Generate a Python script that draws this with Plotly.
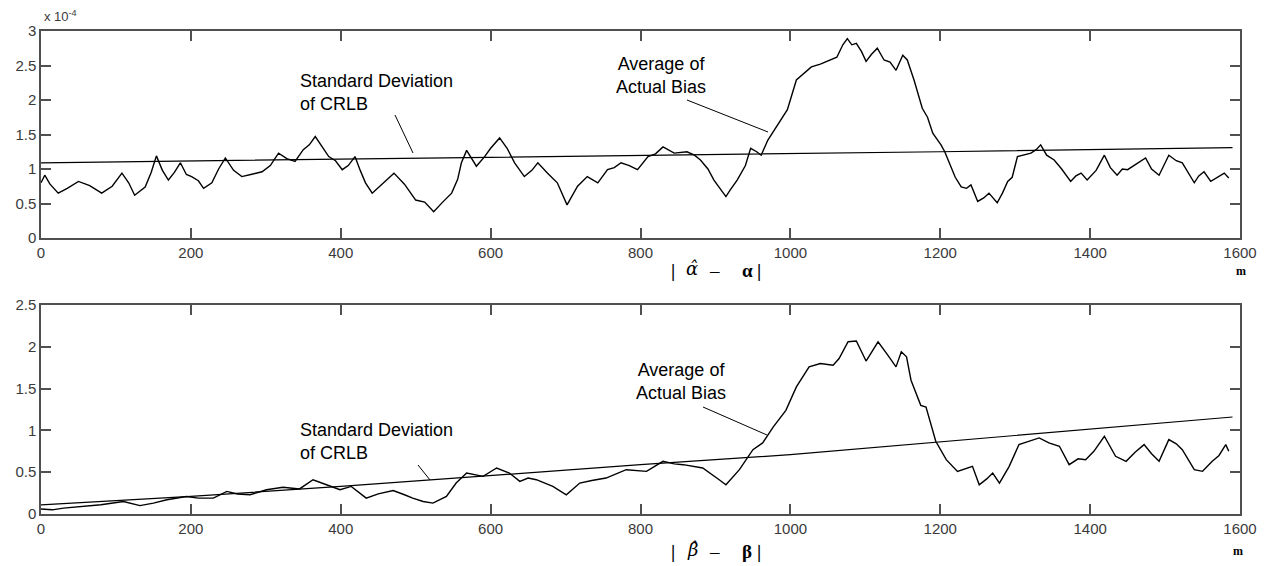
import plotly.graph_objects as go

# ---------------- data ----------------
# top panel: |alpha_hat - alpha| (units of 1e-4)
alpha_m = [0, 5, 12, 23, 35, 50, 65, 81, 95, 108, 117, 125, 139, 147, 154, 162, 170, 178, 186, 194,
           201, 210, 217, 228, 237, 246, 257, 268, 280, 295, 306, 317, 328, 339, 350, 358, 366, 375,
           384, 393, 402, 410, 419, 426, 433, 442, 455, 471, 485, 500, 512, 524, 536, 548, 556, 561,
           568, 575, 581, 592, 600, 612, 622, 632, 645, 655, 663, 676, 689, 702, 716, 729, 743, 756,
           765, 774, 785, 796, 810, 820, 830, 845, 862, 872, 880, 890, 898, 906, 914, 920, 929, 940,
           947, 955, 961, 970, 983, 996, 1008, 1018, 1028, 1040, 1054, 1062, 1070, 1076, 1082, 1088,
           1095, 1101, 1108, 1116, 1125, 1133, 1141, 1150, 1156, 1165, 1176, 1183, 1190, 1201, 1206,
           1212, 1220, 1228, 1235, 1241, 1250, 1258, 1265, 1276, 1283, 1290, 1296, 1303, 1312, 1321,
           1328, 1334, 1342, 1352, 1362, 1374, 1381, 1388, 1396, 1408, 1419, 1427, 1436, 1443, 1450,
           1462, 1474, 1482, 1492, 1505, 1515, 1523, 1531, 1539, 1545, 1552, 1561, 1570, 1579, 1585]
alpha_bias = [0.80, 0.91, 0.78, 0.65, 0.72, 0.82, 0.76, 0.65, 0.75, 0.94, 0.80, 0.62, 0.74, 0.95, 1.19,
              0.98, 0.84, 0.95, 1.09, 0.92, 0.89, 0.83, 0.72, 0.80, 1.00, 1.16, 0.98, 0.89, 0.92, 0.96,
              1.05, 1.23, 1.15, 1.11, 1.28, 1.35, 1.47, 1.32, 1.18, 1.12, 0.99, 1.05, 1.18, 0.98, 0.80,
              0.65, 0.78, 0.94, 0.78, 0.55, 0.52, 0.38, 0.52, 0.65, 0.85, 1.09, 1.27, 1.15, 1.04, 1.18,
              1.30, 1.45, 1.30, 1.09, 0.89, 0.98, 1.09, 0.94, 0.80, 0.48, 0.75, 0.89, 0.80, 0.99, 1.02,
              1.09, 1.05, 0.99, 1.18, 1.22, 1.32, 1.23, 1.25, 1.20, 1.13, 1.00, 0.84, 0.72, 0.60, 0.70,
              0.84, 1.05, 1.30, 1.25, 1.20, 1.42, 1.64, 1.86, 2.29, 2.38, 2.48, 2.52, 2.58, 2.62, 2.80,
              2.89, 2.80, 2.82, 2.70, 2.56, 2.66, 2.75, 2.58, 2.55, 2.43, 2.65, 2.58, 2.29, 1.88, 1.75,
              1.52, 1.35, 1.25, 1.10, 0.88, 0.74, 0.72, 0.77, 0.53, 0.58, 0.65, 0.51, 0.65, 0.82, 0.88,
              1.18, 1.20, 1.23, 1.28, 1.35, 1.20, 1.13, 1.00, 0.82, 0.90, 0.94, 0.84, 0.98, 1.20, 1.02,
              0.91, 1.00, 0.99, 1.08, 1.16, 1.00, 0.91, 1.20, 1.12, 1.09, 0.95, 0.80, 0.90, 0.96, 0.82,
              0.88, 0.94, 0.87]
alpha_crlb_m = [0, 400, 800, 1200, 1590]
alpha_crlb = [1.09, 1.14, 1.19, 1.25, 1.31]

# bottom panel: |beta_hat - beta|
beta_m = [0, 15, 30, 56, 80, 110, 132, 150, 168, 194, 210, 230, 248, 262, 279, 301, 323, 345, 363, 381,
          399, 414, 434, 450, 470, 485, 496, 510, 523, 541, 554, 568, 580, 590, 608, 625, 639, 650, 661,
          683, 701, 719, 735, 754, 781, 808, 830, 845, 857, 870, 883, 905, 914, 932, 950, 963, 977, 994,
          1008, 1025, 1040, 1057, 1065, 1077, 1088, 1101, 1117, 1130, 1141, 1148, 1155, 1161, 1174, 1181,
          1194, 1208, 1223, 1243, 1252, 1262, 1270, 1279, 1292, 1305, 1318, 1332, 1345, 1359, 1372, 1384,
          1394, 1405, 1419, 1434, 1448, 1460, 1472, 1482, 1492, 1505, 1515, 1523, 1539, 1550, 1563, 1572,
          1581, 1585]
beta_bias = [0.06, 0.05, 0.07, 0.09, 0.11, 0.15, 0.10, 0.13, 0.17, 0.21, 0.19, 0.19, 0.27, 0.24, 0.23,
             0.29, 0.32, 0.30, 0.41, 0.35, 0.29, 0.33, 0.19, 0.24, 0.28, 0.23, 0.19, 0.15, 0.13, 0.21,
             0.37, 0.49, 0.47, 0.45, 0.55, 0.49, 0.39, 0.43, 0.41, 0.33, 0.23, 0.37, 0.40, 0.43, 0.53,
             0.51, 0.63, 0.60, 0.59, 0.57, 0.55, 0.41, 0.35, 0.53, 0.77, 0.85, 1.04, 1.24, 1.52, 1.76,
             1.80, 1.78, 1.86, 2.06, 2.07, 1.83, 2.06, 1.90, 1.76, 1.94, 1.88, 1.60, 1.30, 1.28, 0.87,
             0.65, 0.51, 0.57, 0.35, 0.42, 0.49, 0.37, 0.57, 0.83, 0.87, 0.91, 0.85, 0.81, 0.59, 0.66,
             0.65, 0.75, 0.93, 0.69, 0.63, 0.74, 0.83, 0.72, 0.63, 0.89, 0.84, 0.77, 0.53, 0.51, 0.63,
             0.70, 0.83, 0.75]
beta_crlb_m = [0, 200, 400, 600, 800, 1000, 1200, 1400, 1590]
beta_crlb = [0.11, 0.21, 0.33, 0.46, 0.59, 0.71, 0.86, 1.01, 1.16]

x_ticks = [0, 200, 400, 600, 800, 1000, 1200, 1400, 1600]
y1_ticks = [0, 0.5, 1, 1.5, 2, 2.5, 3]
y1_text = ["0", "0.5", "1", "1.5", "2", "2.5", "3"]
y2_ticks = [0, 0.5, 1, 1.5, 2, 2.5]
y2_text = ["0", "0.5", "1", "1.5", "2", "2.5"]

# ---------------- layout geometry (pixels) ----------------
W, H = 1270, 566
ML, MR, MT, MB = 41, 30, 31, 52
PW, PH = W - ML - MR, H - MT - MB


def px(x):
    return (x - ML) / PW


def py(y):
    return (H - MB - y) / PH


top_dom = [py(238), 1.0]
bot_dom = [0.0, py(305)]

LINE = dict(color="black", width=1.4)
fig = go.Figure()
fig.add_trace(go.Scatter(x=alpha_m, y=alpha_bias, mode="lines", line=LINE, xaxis="x", yaxis="y"))
fig.add_trace(go.Scatter(x=alpha_crlb_m, y=alpha_crlb, mode="lines", line=dict(color="black", width=1.2),
                         xaxis="x", yaxis="y"))
fig.add_trace(go.Scatter(x=beta_m, y=beta_bias, mode="lines", line=LINE, xaxis="x2", yaxis="y2"))
fig.add_trace(go.Scatter(x=beta_crlb_m, y=beta_crlb, mode="lines", line=dict(color="black", width=1.2),
                         xaxis="x2", yaxis="y2"))

tickfont = dict(family="Liberation Sans, Arial", size=15, color="#3a3a3a")
ax_common = dict(showline=True, linecolor="#505050", linewidth=1.5, mirror="ticks", ticks="inside",
                 ticklen=10, tickwidth=1.5, tickcolor="#505050", showgrid=False, zeroline=False,
                 tickfont=tickfont, automargin=False)

fig.update_layout(
    width=W, height=H, showlegend=False,
    margin=dict(l=ML, r=MR, t=MT, b=MB),
    paper_bgcolor="white", plot_bgcolor="white",
    xaxis=dict(domain=[0, 1], anchor="y", range=[0, 1600], tickvals=x_ticks, **ax_common),
    yaxis=dict(domain=top_dom, anchor="x", range=[0, 3], tickvals=y1_ticks, ticktext=y1_text, **ax_common),
    xaxis2=dict(domain=[0, 1], anchor="y2", range=[0, 1600], tickvals=x_ticks, **ax_common),
    yaxis2=dict(domain=bot_dom, anchor="x2", range=[0, 2.5], tickvals=y2_ticks, ticktext=y2_text, **ax_common),
)

txtfont = dict(family="Liberation Sans, Arial", size=18, color="black")
serif = dict(family="Liberation Serif, Times New Roman", size=19, color="black")
hatfont = dict(family="DejaVu Serif", size=18, color="black")
ann = []


def add_text(x, y, text, font, xanchor="center", yanchor="middle", align="center"):
    ann.append(dict(x=px(x), y=py(y), xref="paper", yref="paper", text=text, showarrow=False,
                    font=font, xanchor=xanchor, yanchor=yanchor, align=align))


def add_title(yc, letter):
    # axis caption |letter_hat - letter|
    add_text(673, yc, "<b>|</b>", serif)
    add_text(692, yc - 2, "<i>" + letter + "\u0302</i>", hatfont)
    add_text(714, yc, "\u2013", serif)
    add_text(747, yc, "<b>" + letter + "</b>", serif)
    add_text(759, yc, "<b>|</b>", serif)


# top panel labels
add_text(298, 92, "Standard Deviation<br>of CRLB", txtfont, xanchor="left", align="left")
add_text(661, 76, "Average of<br>Actual Bias", txtfont)
add_text(42, 16, "x 10<sup>-4</sup>", dict(family="Liberation Sans, Arial", size=13, color="#3a3a3a"),
         xanchor="left")
add_title(270, "\u03b1")
add_text(1241, 271, "<b>m</b>", dict(family="Liberation Serif, Times New Roman", size=12, color="black"))

# bottom panel labels
add_text(298, 441, "Standard Deviation<br>of CRLB", txtfont, xanchor="left", align="left")
add_text(681, 381, "Average of<br>Actual Bias", txtfont)
add_title(551, "\u03b2")
add_text(1238, 551, "<b>m</b>", dict(family="Liberation Serif, Times New Roman", size=12, color="black"))

fig.update_layout(annotations=ann)

# pointer lines
ptr = [((395, 115), (413, 153)), ((687, 100), (768, 132)),
       ((418, 465), (430, 480)), ((703, 407), (767, 435))]
shapes = []
for (x0, y0), (x1, y1) in ptr:
    shapes.append(dict(type="line", xref="paper", yref="paper", x0=px(x0), y0=py(y0), x1=px(x1), y1=py(y1),
                       line=dict(color="black", width=1)))
fig.update_layout(shapes=shapes)

fig.write_html("out.html")
